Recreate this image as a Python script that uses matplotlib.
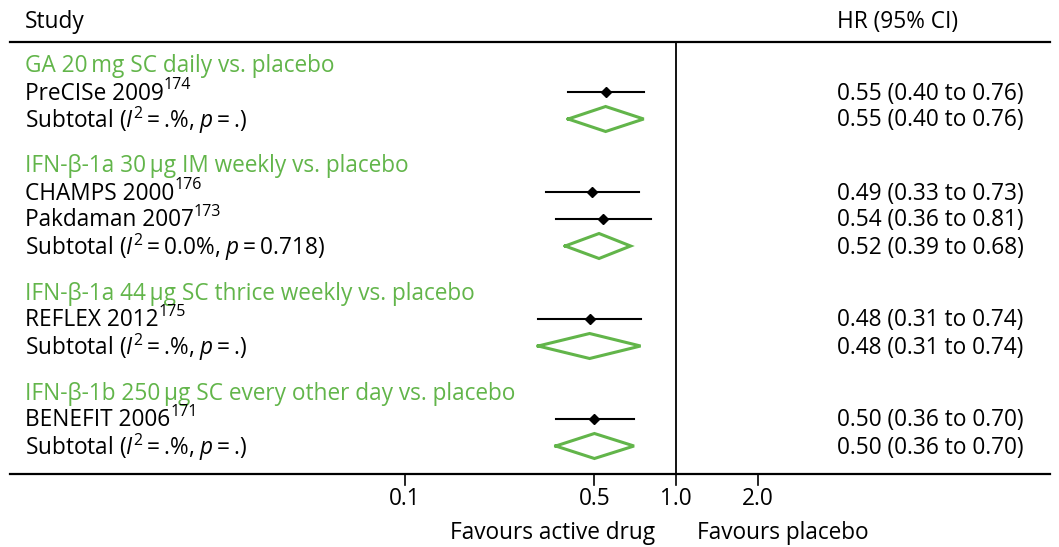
import matplotlib
matplotlib.use("Agg")
import matplotlib.pyplot as plt
import matplotlib.transforms as mtransforms
import numpy as np

plt.rcParams['font.family'] = ['Open Sans', 'DejaVu Sans']
plt.rcParams['mathtext.fontset'] = 'custom'
plt.rcParams['mathtext.rm'] = 'Open Sans'
plt.rcParams['mathtext.it'] = 'Open Sans:italic'

GREEN = '#62b54a'

groups = [
    "GA 20\u2009mg SC daily vs. placebo",
    "IFN-\u03b2-1a 30\u2009\u03bcg IM weekly vs. placebo",
    "IFN-\u03b2-1a 44\u2009\u03bcg SC thrice weekly vs. placebo",
    "IFN-\u03b2-1b 250\u2009\u03bcg SC every other day vs. placebo",
]
studies = [
    [("PreCISe 2009", "174")],
    [("CHAMPS 2000", "176"), ("Pakdaman 2007", "173")],
    [("REFLEX 2012", "175")],
    [("BENEFIT 2006", "171")],
]
study_hr = [[0.55], [0.49, 0.54], [0.48], [0.50]]
study_lo = [[0.40], [0.33, 0.36], [0.31], [0.36]]
study_hi = [[0.76], [0.73, 0.81], [0.74], [0.70]]
sub_labels = [
    "Subtotal ($I^{2}$\u2009=\u2009.%, $p$\u2009=\u2009.)",
    "Subtotal ($I^{2}$\u2009=\u20090.0%, $p$\u2009=\u20090.718)",
    "Subtotal ($I^{2}$\u2009=\u2009.%, $p$\u2009=\u2009.)",
    "Subtotal ($I^{2}$\u2009=\u2009.%, $p$\u2009=\u2009.)",
]
sub_hr = [0.55, 0.52, 0.48, 0.50]
sub_lo = [0.40, 0.39, 0.31, 0.36]
sub_hi = [0.76, 0.68, 0.74, 0.70]
xticks = [0.1, 0.5, 1.0, 2.0]
xtick_labels = ["0.1", "0.5", "1.0", "2.0"]

W, H = 1059, 547
fig = plt.figure(figsize=(W / 100, H / 100), dpi=100)
ax = fig.add_axes([0, 0, 1, 1])
ax.set_xscale('log')
ppd = 271.0  # pixels per decade
x1 = 676.0
ax.set_xlim(10 ** (-x1 / ppd), 10 ** ((W - x1) / ppd))
ax.set_ylim(H, 0)
ax.axis('off')
bt = mtransforms.blended_transform_factory(ax.transAxes, ax.transData)

FS = 16.3
SUPFS = 11.5
LX = 25 / W
RX = 837 / W
DY = 1.5  # small downward shift of text to match baseline

def fmt(h, l, u):
    return f"{h:.2f} ({l:.2f} to {u:.2f})"

# header
ax.text(LX, 20 + DY, "Study", transform=bt, fontsize=FS, va='center', ha='left')
ax.text(RX, 20 + DY, "HR (95% CI)", transform=bt, fontsize=FS, va='center', ha='left')
ax.plot([10 / W, 1050 / W], [42, 42], transform=bt, color='black', lw=1.6)
ax.plot([10 / W, 1050 / W], [474, 474], transform=bt, color='black', lw=1.6)
ax.plot([1.0, 1.0], [42, 474], color='black', lw=1.3)

fig.canvas.draw()
renderer = fig.canvas.get_renderer()

y = 65
step = 27
for gi, g in enumerate(groups):
    ax.text(LX, y + DY, g, transform=bt, fontsize=FS, va='center', ha='left', color=GREEN)
    y += step
    for si, (name, sup) in enumerate(studies[gi]):
        t = ax.text(LX, y + DY, name, transform=bt, fontsize=FS, va='center', ha='left')
        bb = t.get_window_extent(renderer)
        ax.text(bb.x1 / W, y - 7, sup, transform=bt, fontsize=SUPFS, va='center', ha='left')
        h, l, u = study_hr[gi][si], study_lo[gi][si], study_hi[gi][si]
        ax.plot([l, u], [y, y], color='black', lw=1.5)
        ax.plot([h], [y], marker='D', color='black', ms=5)
        ax.text(RX, y + DY, fmt(h, l, u), transform=bt, fontsize=FS, va='center', ha='left')
        y += step
    ax.text(LX, y + DY, sub_labels[gi], transform=bt, fontsize=FS, va='center', ha='left')
    h, l, u = sub_hr[gi], sub_lo[gi], sub_hi[gi]
    dh = 12.5
    ax.plot([l, h, u, h, l], [y, y - dh, y, y + dh, y], color=GREEN, lw=2.2, solid_joinstyle='miter')
    ax.text(RX, y + DY, fmt(h, l, u), transform=bt, fontsize=FS, va='center', ha='left')
    y += step + 19

for xt, lab in zip(xticks, xtick_labels):
    ax.plot([xt, xt], [474, 485], color='black', lw=1.2)
    ax.text(xt, 499, lab, fontsize=FS, va='center', ha='center')

ax.text(655 / W, 533, "Favours active drug", transform=bt, fontsize=FS, va='center', ha='right')
ax.text(697 / W, 533, "Favours placebo", transform=bt, fontsize=FS, va='center', ha='left')

fig.savefig("out.png", dpi=100)
